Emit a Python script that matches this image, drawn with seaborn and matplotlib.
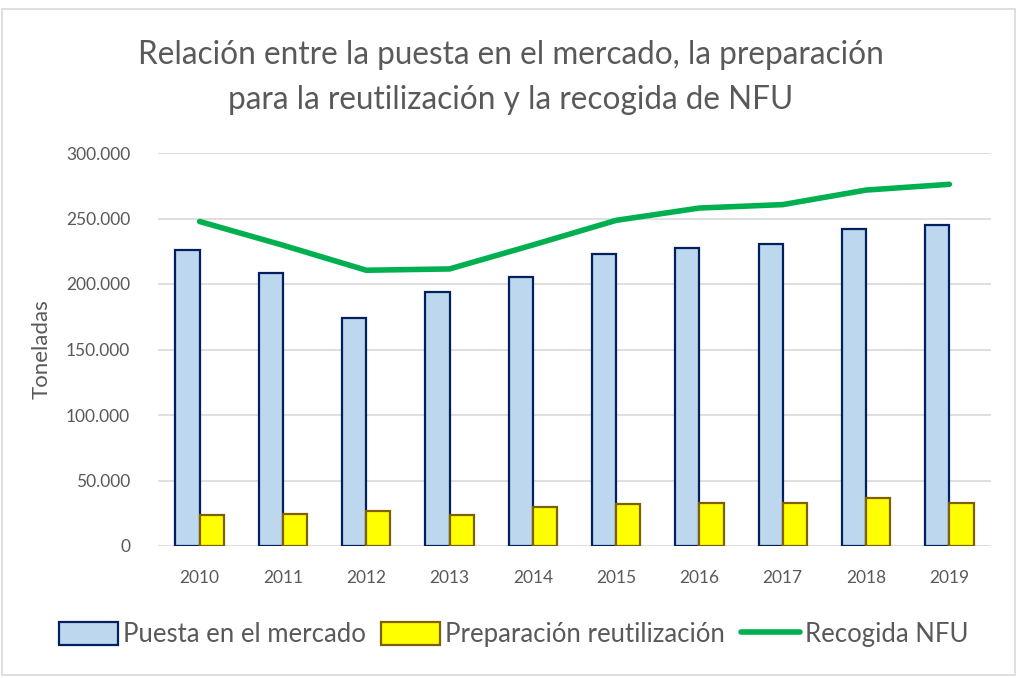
import pandas as pd
import matplotlib.pyplot as plt
import numpy as np
import seaborn as sns
from matplotlib.ticker import FuncFormatter
from matplotlib.patches import Patch, Rectangle
from matplotlib.lines import Line2D

years = ['2010', '2011', '2012', '2013', '2014', '2015', '2016', '2017', '2018', '2019']
puesta = [225600, 208300, 174200, 193800, 205700, 222700, 227300, 230400, 241800, 244800]
preparacion = [23600, 24800, 26400, 23600, 30000, 32000, 32800, 32800, 36300, 33200]
recogida = [247700, 229600, 210500, 211500, 229800, 248600, 258000, 260600, 271700, 276100]

serie_bar = ['Puesta en el mercado', 'Preparación reutilización']
serie_line = 'Recogida NFU'
title_lines = ['Relación entre la puesta en el mercado, la preparación',
               'para la reutilización y la recogida de NFU']

df = pd.DataFrame({'year': years * 2,
                   'value': puesta + preparacion,
                   'serie': [serie_bar[0]] * len(years) + [serie_bar[1]] * len(years)})

sns.set_style("white")
plt.rcParams['font.family'] = ['Lato', 'DejaVu Sans']
gray = '#595959'

fig = plt.figure(figsize=(10.19, 6.78), dpi=100)
ax = fig.add_axes([158 / 1019, 1 - 546 / 678, (991 - 158) / 1019, (546 - 153) / 678])

#bars
fills = ['#BDD7EE', '#FFFF00']
edges = ['#002060', '#7F6000']
sns.barplot(data=df, x='year', y='value', hue='serie', palette=fills,
            width=0.58, gap=0, ax=ax, legend=False, saturation=1)
for cont, ec in zip(ax.containers, edges):
    for bar in cont:
        bar.set_edgecolor(ec)
        bar.set_linewidth(1.6)

#line
sns.lineplot(x=np.arange(len(years)), y=recogida, color='#00B050', linewidth=4,
             ax=ax, solid_capstyle='round')

ax.set_xlim(-0.5, len(years) - 0.5)
ax.set_ylim(0, 300000)
ax.set_yticks(np.arange(0, 300001, 50000))
ax.yaxis.set_major_formatter(FuncFormatter(lambda v, p: f'{int(v):,}'.replace(',', '.')))
ax.grid(axis='y', color='#D9D9D9', linewidth=1.2)
ax.set_axisbelow(True)
sns.despine(ax=ax, left=True, top=True, right=True, bottom=True)
ax.tick_params(axis='both', length=0, labelsize=12.5, colors=gray)
ax.tick_params(axis='x', pad=17)
ax.tick_params(axis='y', pad=20)
ax.set_xlabel('')
ax.set_ylabel('Toneladas', fontsize=16, color=gray, labelpad=10)

#title, two lines
fig.text(0.501, 1 - 55 / 678, title_lines[0], ha='center', va='center', fontsize=22.7, color=gray)
fig.text(0.501, 1 - 100 / 678, title_lines[1], ha='center', va='center', fontsize=22.7, color=gray)

#legend at bottom
handles = [Patch(facecolor=fills[0], edgecolor=edges[0], linewidth=1.6),
           Patch(facecolor=fills[1], edgecolor=edges[1], linewidth=1.6),
           Line2D([0], [0], color='#00B050', linewidth=4)]
fig.legend(handles, serie_bar + [serie_line], loc='center', bbox_to_anchor=(0.504, 0.064),
           ncol=3, frameon=False, fontsize=18.5, labelcolor=gray, handlelength=2.3,
           handleheight=1.0, handletextpad=0.2, columnspacing=0.6)

#outer border
fig.patches.append(Rectangle((0.002, 0.004), 0.994, 0.983, transform=fig.transFigure,
                             fill=False, edgecolor='#D9D9D9', linewidth=1.2))

fig.savefig('out.png', dpi=100)
